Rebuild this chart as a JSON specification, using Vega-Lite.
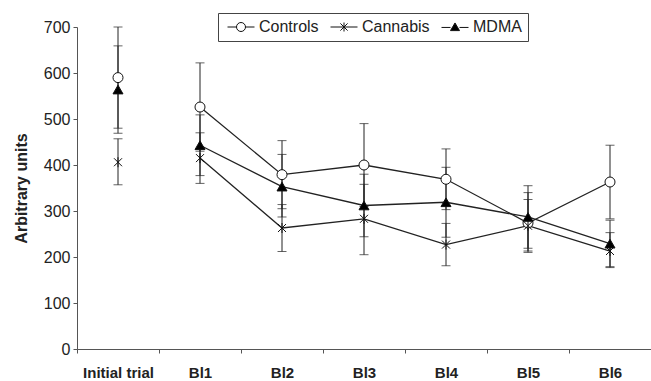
{
  "$schema": "https://vega.github.io/schema/vega-lite/v6.json",
  "width": 574,
  "height": 322,
  "autosize": {"type": "none"},
  "padding": {"left": 77, "top": 27, "right": 0, "bottom": 32},
  "background": "white",
  "config": {
    "view": {"stroke": null},
    "font": "Liberation Sans",
    "axis": {"grid": false, "domainColor": "#555", "tickColor": "#555", "labelColor": "#222", "titleColor": "#222", "labelFont": "Liberation Sans", "titleFont": "Liberation Sans"}
  },
  "data": {
    "values": [
      {"time": "Initial trial", "group": "Controls", "mean": 590, "lo": 480, "hi": 700},
      {"time": "Initial trial", "group": "Cannabis", "mean": 406, "lo": 357, "hi": 457},
      {"time": "Initial trial", "group": "MDMA", "mean": 564, "lo": 469, "hi": 659},
      {"time": "Bl1", "group": "Controls", "mean": 526, "lo": 430, "hi": 622},
      {"time": "Bl1", "group": "Cannabis", "mean": 415, "lo": 360, "hi": 470},
      {"time": "Bl1", "group": "MDMA", "mean": 443, "lo": 377, "hi": 509},
      {"time": "Bl2", "group": "Controls", "mean": 379, "lo": 305, "hi": 453},
      {"time": "Bl2", "group": "Cannabis", "mean": 263, "lo": 212, "hi": 314},
      {"time": "Bl2", "group": "MDMA", "mean": 353, "lo": 287, "hi": 423},
      {"time": "Bl3", "group": "Controls", "mean": 400, "lo": 310, "hi": 490},
      {"time": "Bl3", "group": "Cannabis", "mean": 283, "lo": 205, "hi": 358},
      {"time": "Bl3", "group": "MDMA", "mean": 312, "lo": 244, "hi": 380},
      {"time": "Bl4", "group": "Controls", "mean": 369, "lo": 303, "hi": 435},
      {"time": "Bl4", "group": "Cannabis", "mean": 227, "lo": 181, "hi": 273},
      {"time": "Bl4", "group": "MDMA", "mean": 319, "lo": 243, "hi": 395},
      {"time": "Bl5", "group": "Controls", "mean": 274, "lo": 210, "hi": 340},
      {"time": "Bl5", "group": "Cannabis", "mean": 268, "lo": 213, "hi": 325},
      {"time": "Bl5", "group": "MDMA", "mean": 287, "lo": 219, "hi": 355},
      {"time": "Bl6", "group": "Controls", "mean": 363, "lo": 283, "hi": 443},
      {"time": "Bl6", "group": "Cannabis", "mean": 213, "lo": 177, "hi": 253},
      {"time": "Bl6", "group": "MDMA", "mean": 229, "lo": 179, "hi": 280}
    ]
  },
  "encoding": {
    "x": {
      "field": "time", "type": "nominal",
      "sort": ["Initial trial", "Bl1", "Bl2", "Bl3", "Bl4", "Bl5", "Bl6"],
      "scale": {"type": "band", "paddingInner": 0, "paddingOuter": 0},
      "axis": {"title": null, "labelAngle": 0, "tickBand": "extent", "labelFontSize": 15, "labelFontWeight": "bold", "labelPadding": 12, "tickSize": 4}
    }
  },
  "layer": [
    {
      "mark": {"type": "rule", "color": "#222", "strokeWidth": 1},
      "encoding": {
        "y": {"field": "lo", "type": "quantitative", "scale": {"domain": [0, 700], "nice": false},
          "axis": {"values": [0, 100, 200, 300, 400, 500, 600, 700], "title": "Arbitrary units", "titleFontSize": 16, "titleFontWeight": "bold", "titlePadding": 14, "labelFontSize": 16, "tickSize": 4, "labelPadding": 3}},
        "y2": {"field": "hi"}
      }
    },
    {
      "mark": {"type": "tick", "color": "#222", "size": 9, "thickness": 1, "orient": "horizontal"},
      "encoding": {"y": {"field": "lo", "type": "quantitative"}}
    },
    {
      "mark": {"type": "tick", "color": "#222", "size": 9, "thickness": 1, "orient": "horizontal"},
      "encoding": {"y": {"field": "hi", "type": "quantitative"}}
    },
    {
      "transform": [{"filter": "datum.time !== 'Initial trial'"}],
      "mark": {"type": "line", "color": "#222", "strokeWidth": 1.3},
      "encoding": {
        "y": {"field": "mean", "type": "quantitative"},
        "detail": {"field": "group", "type": "nominal"}
      }
    },
    {
      "mark": {"type": "point", "filled": false, "size": 100, "stroke": "#111", "strokeWidth": 1, "opacity": 1},
      "encoding": {
        "y": {"field": "mean", "type": "quantitative"},
        "shape": {
          "field": "group", "type": "nominal",
          "scale": {"domain": ["Controls", "Cannabis", "MDMA"], "range": ["circle", "M-0.8,-0.8L0.8,0.8M-0.8,0.8L0.8,-0.8M0,-1L0,1", "triangle-up"]},
          "legend": null
        },
        "fill": {
          "field": "group", "type": "nominal",
          "scale": {"domain": ["Controls", "Cannabis", "MDMA"], "range": ["white", "transparent", "black"]},
          "legend": null
        }
      }
    },
    {
      "transform": [{"filter": "datum.mean < 0"}],
      "mark": {"type": "point", "filled": false, "size": 81, "stroke": "#111", "strokeWidth": 1, "opacity": 1},
      "encoding": {
        "y": {"field": "mean", "type": "quantitative"},
        "shape": {
          "field": "group", "type": "nominal",
          "scale": {"domain": ["Controls", "Cannabis", "MDMA"], "range": ["M-3,0L-1,0M1,0L3,0M-1,0A1,1 0 1,1 1,0A1,1 0 1,1 -1,0Z", "M-3,0L3,0M-0.8,-0.8L0.8,0.8M-0.8,0.8L0.8,-0.8M0,-1L0,1", "M-3,0.1L-1,0.1M1,0.1L3,0.1M0,-0.9L1,0.8L-1,0.8Z"]},
          "legend": {
            "title": null, "orient": "none", "legendX": 141, "legendY": -14, "direction": "horizontal",
            "strokeColor": "#444", "fillColor": "white", "padding": 6,
            "symbolSize": 81, "symbolOffset": 9, "labelOffset": 10, "columnPadding": 8,
            "labelFontSize": 16, "labelColor": "#222", "labelFont": "Liberation Sans",
            "symbolStrokeWidth": 1
          }
        },
        "fill": {
          "field": "group", "type": "nominal",
          "scale": {"domain": ["Controls", "Cannabis", "MDMA"], "range": ["white", "transparent", "black"]},
          "legend": {
            "title": null, "orient": "none", "legendX": 141, "legendY": -14, "direction": "horizontal",
            "strokeColor": "#444", "fillColor": "white", "padding": 6,
            "symbolSize": 81, "symbolOffset": 9, "labelOffset": 10, "columnPadding": 8,
            "labelFontSize": 16, "labelColor": "#222", "labelFont": "Liberation Sans",
            "symbolStrokeWidth": 1
          }
        }
      }
    }
  ],
  "resolve": {"scale": {"shape": "independent", "fill": "independent"}}
}
